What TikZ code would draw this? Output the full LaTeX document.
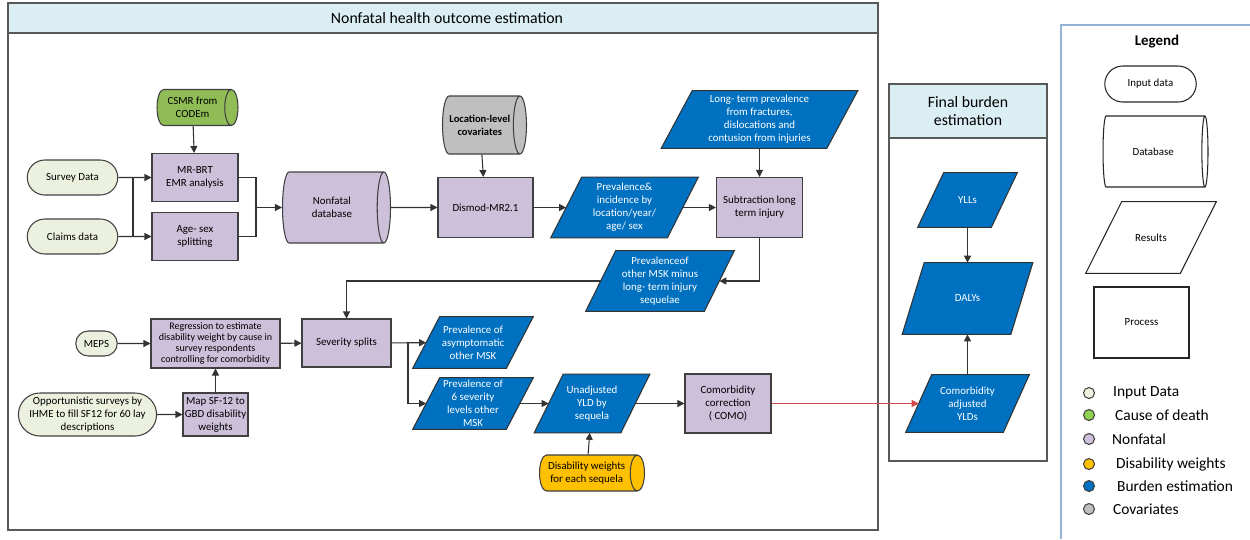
\documentclass[tikz,border=0pt]{standalone}
\usepackage{fontspec}
\setmainfont{Carlito}
\usepackage{xcolor}
\usetikzlibrary{arrows.meta,positioning,shapes.geometric,shapes.misc,backgrounds}
\definecolor{hdrblue}{HTML}{DAEEF3}
\definecolor{inputgreen}{HTML}{EBF1DE}
\definecolor{codgreen}{HTML}{8FBC55}
\definecolor{dotgreen}{HTML}{92D050}
\definecolor{nonfatal}{HTML}{CCC0DA}
\definecolor{dwyellow}{HTML}{FFC000}
\definecolor{burden}{HTML}{0070C0}
\definecolor{covgray}{HTML}{BFBFBF}
\definecolor{edge}{HTML}{404040}
\definecolor{legblue}{HTML}{95B3D7}
\definecolor{comored}{HTML}{D04545}

\begin{document}
\begin{tikzpicture}[
  x=0.02cm, y=-0.02cm,
  every node/.style={font=\fontsize{6.2}{7.4}\selectfont, align=center, inner sep=1pt},
  inbox/.style={rounded rectangle, draw=edge, fill=inputgreen, line width=0.6pt},
  procbox/.style={rectangle, draw=edge, fill=nonfatal, line width=0.6pt},
  resbox/.style={rectangle, text=white},
  resshape/.style={draw=black!80, fill=burden, line width=0.6pt},
  dbase/.style={cylinder, shape aspect=0.55, draw=edge, line width=0.6pt,
    anchor=shape center},
  arr/.style={-{Triangle[length=1.4mm, width=1.4mm]}, line width=0.6pt,
    draw=black!80},
  lnk/.style={line width=0.6pt, draw=black!80},
  frame/.style={draw=black!65, line width=0.8pt},
  hdr/.style={font=\fontsize{9}{10.6}\selectfont},
  legdot/.style={circle, draw=edge, minimum size=0.22cm, inner sep=0pt,
    line width=0.6pt},
  legtext/.style={font=\fontsize{8.8}{10}\selectfont, anchor=west},
]
\useasboundingbox (0,0) rectangle (1250,539);

\draw[frame] (8,3) rectangle (878,530);
\draw[frame, fill=hdrblue] (8,3) rectangle (878,33);
\node[hdr] (nftitle) at (447,18) {Nonfatal health outcome estimation};

\draw[frame] (889,84) rectangle (1047,461);
\draw[frame, fill=hdrblue] (889,84) rectangle (1047,138);
\node[hdr] (fbtitle) at (968,111) {Final burden\\estimation};

\draw[legblue, line width=0.8pt] (1061,539) -- (1061,25) -- (1250,25);

\node[dbase, fill=codgreen, minimum height=1.62cm, minimum width=0.72cm] (csmr) at (197.5,107.5) {CSMR from\\CODEm};
\node[inbox, minimum width=1.88cm, minimum height=0.7cm] (survey) at (72.5,177.5) {Survey Data};
\node[inbox, minimum width=1.88cm, minimum height=0.7cm] (claims) at (72.5,236.5) {Claims data};
\node[procbox, minimum width=1.72cm, minimum height=0.96cm] (mrbrt) at (195,177.5) {MR-BRT\\EMR analysis};
\node[procbox, minimum width=1.72cm, minimum height=0.96cm] (agesex) at (195,236.5) {Age- sex\\splitting};
\node[dbase, fill=nonfatal, minimum height=2.16cm, minimum width=1.42cm] (nfdb) at (336.5,207.5) {Nonfatal\\database};
\node[dbase, fill=covgray, minimum height=1.68cm, minimum width=1.16cm, font=\fontsize{6}{7.3}\selectfont\bfseries] (covar) at (484.5,125) {Location-level\\covariates};
\node[procbox, minimum width=1.9cm, minimum height=1.2cm] (dismod) at (485.5,207.5) {Dismod-MR2.1};
\node[resbox, minimum width=2.32cm, minimum height=1.2cm] (previnc) at (624.5,207.5) {Prevalence\&\\incidence by\\location/year/\\age/ sex};
\node[resbox, minimum width=3.3cm, minimum height=1.14cm] (longterm) at (759.5,119.5) {Long- term prevalence\\from fractures,\\dislocations and\\contusion from injuries};
\node[procbox, minimum width=1.72cm, minimum height=1.2cm] (subtr) at (759.5,207.5) {Subtraction long\\term injury};
\node[resbox, minimum width=2.36cm, minimum height=1.2cm] (othmsk) at (660,281) {Prevalenceof\\other MSK minus\\long- term injury\\sequelae};

\node[inbox, minimum width=0.9cm, minimum height=0.5cm] (meps) at (96.5,343.5) {MEPS};
\node[procbox, minimum width=2.58cm, minimum height=0.98cm, font=\fontsize{5.7}{6.3}\selectfont] (regr) at (215.5,343.5) {Regression to estimate\\disability weight by cause in\\survey respondents\\controlling for comorbidity};
\node[procbox, minimum width=1.78cm, minimum height=0.96cm] (sev) at (346.5,343) {Severity splits};
\node[inbox, minimum width=2.66cm, minimum height=0.86cm] (oppsurv) at (87.5,414.5) {Opportunistic surveys by\\IHME to fill SF12 for 60 lay\\descriptions};
\node[procbox, minimum width=1.3cm, minimum height=0.86cm] (mapsf) at (215.5,414.5) {Map SF-12 to\\GBD disability\\weights};

\node[resbox, minimum width=1.86cm, minimum height=1.02cm] (asym) at (473,342.5) {Prevalence of\\asymptomatic\\other MSK};
\node[resbox, minimum width=1.86cm, minimum height=1.02cm] (sev6) at (473,403.5) {Prevalence of\\6 severity\\levels other\\MSK};
\node[resbox, minimum width=1.72cm, minimum height=1.16cm] (unadj) at (592,403.5) {Unadjusted\\YLD by\\sequela};
\node[procbox, minimum width=1.72cm, minimum height=1.18cm] (como) at (728,403.5) {Comorbidity\\correction\\( COMO)};
\node[dbase, fill=dwyellow, minimum height=2.1cm, minimum width=0.72cm] (dweights) at (592,473) {Disability weights\\for each sequela};

\node[resbox, minimum width=1.46cm, minimum height=1.08cm] (ylls) at (967.5,200) {YLLs};
\node[resbox, minimum width=2.16cm, minimum height=1.42cm] (dalys) at (967.5,298.5) {DALYs};
\node[resbox, minimum width=1.94cm, minimum height=1.14cm] (cadj) at (967.5,403.5) {Comorbidity\\adjusted\\YLDs};

\node[font=\fontsize{8.5}{10}\selectfont\bfseries] (legtitle) at (1157,42) {Legend};
\node[rounded rectangle, draw=black!85, line width=0.6pt, minimum width=1.9cm, minimum height=0.72cm] (leginput) at (1150.5,84) {Input data};
\node[dbase, fill=white, draw=black!85, minimum height=2.1cm, minimum width=1.42cm] (legdb) at (1155.5,151.5) {Database};
\node[rectangle, minimum width=1.88cm, minimum height=1.42cm] (legres) at (1151,237.5) {Results};
\node[draw=black!85, line width=0.6pt, minimum width=1.9cm, minimum height=1.42cm] (legproc) at (1141.5,322.5) {Process};

\node[legdot, fill=inputgreen] (dotinput) at (1089,393) {};
\node[legdot, fill=dotgreen] (dotcod) at (1089,415) {};
\node[legdot, fill=nonfatal] (dotnf) at (1089,439) {};
\node[legdot, fill=dwyellow] (dotdw) at (1089,464) {};
\node[legdot, fill=burden] (dotburden) at (1089,486) {};
\node[legdot, fill=covgray] (dotcov) at (1089,509) {};
\node[legtext] (txtinput) at (1111,393) {Input Data};
\node[legtext] (txtcod) at (1113,415) {Cause of death};
\node[legtext] (txtnf) at (1110,439) {Nonfatal};
\node[legtext] (txtdw) at (1114,464) {Disability weights};
\node[legtext] (txtburden) at (1115,486) {Burden estimation};
\node[legtext] (txtcov) at (1111,509) {Covariates};

\begin{scope}[on background layer]
\foreach \n/\s in {previnc/31, longterm/31, othmsk/30, asym/27, sev6/27,
    unadj/29, ylls/26, dalys/22, cadj/26}
  \draw[resshape] ([xshift=\s*0.01cm]\n.north west) -- ([xshift=\s*0.01cm]\n.north east)
    -- ([xshift=-\s*0.01cm]\n.south east) -- ([xshift=-\s*0.01cm]\n.south west) -- cycle;
\draw[draw=black!85, line width=0.6pt] ([xshift=0.36cm]legres.north west) -- ([xshift=0.36cm]legres.north east)
  -- ([xshift=-0.36cm]legres.south east) -- ([xshift=-0.36cm]legres.south west) -- cycle;
\end{scope}

\coordinate (jin) at (133,207);
\coordinate (jout) at (256,207.5);
\coordinate (sb) at (408,343);
\draw[arr] (csmr) -- (mrbrt);
\draw[arr] (survey) -- (mrbrt);
\draw[arr] (claims) -- (agesex);
\draw[lnk] (survey -| jin) -- (claims -| jin);
\draw[lnk] (mrbrt.east) -| (jout);
\draw[lnk] (agesex.east) -| (jout);
\draw[arr] (jout) -- (nfdb);
\draw[arr] (nfdb) -- (dismod);
\draw[arr] (covar) -- (dismod);
\draw[arr] (dismod) -- (previnc);
\draw[arr] (previnc) -- (subtr);
\draw[arr] (longterm) -- (subtr);
\draw[arr] (subtr.south) |- (othmsk);
\draw[arr] (othmsk) -| (sev);
\draw[arr] (meps) -- (regr);
\draw[arr] (oppsurv) -- (mapsf);
\draw[arr] (mapsf) -- (regr);
\draw[arr] (regr) -- (sev);
\draw[arr] (sev) -- (asym);
\draw[arr] (sb) |- (sev6);
\draw[arr] (sev6) -- (unadj);
\draw[arr] (unadj) -- (como);
\draw[arr] (dweights) -- (unadj);
\draw[arr, draw=comored, fill=comored] (como) -- (cadj);
\draw[arr] (ylls) -- (dalys);
\draw[arr] (cadj) -- (dalys);
\end{tikzpicture}
\end{document}
